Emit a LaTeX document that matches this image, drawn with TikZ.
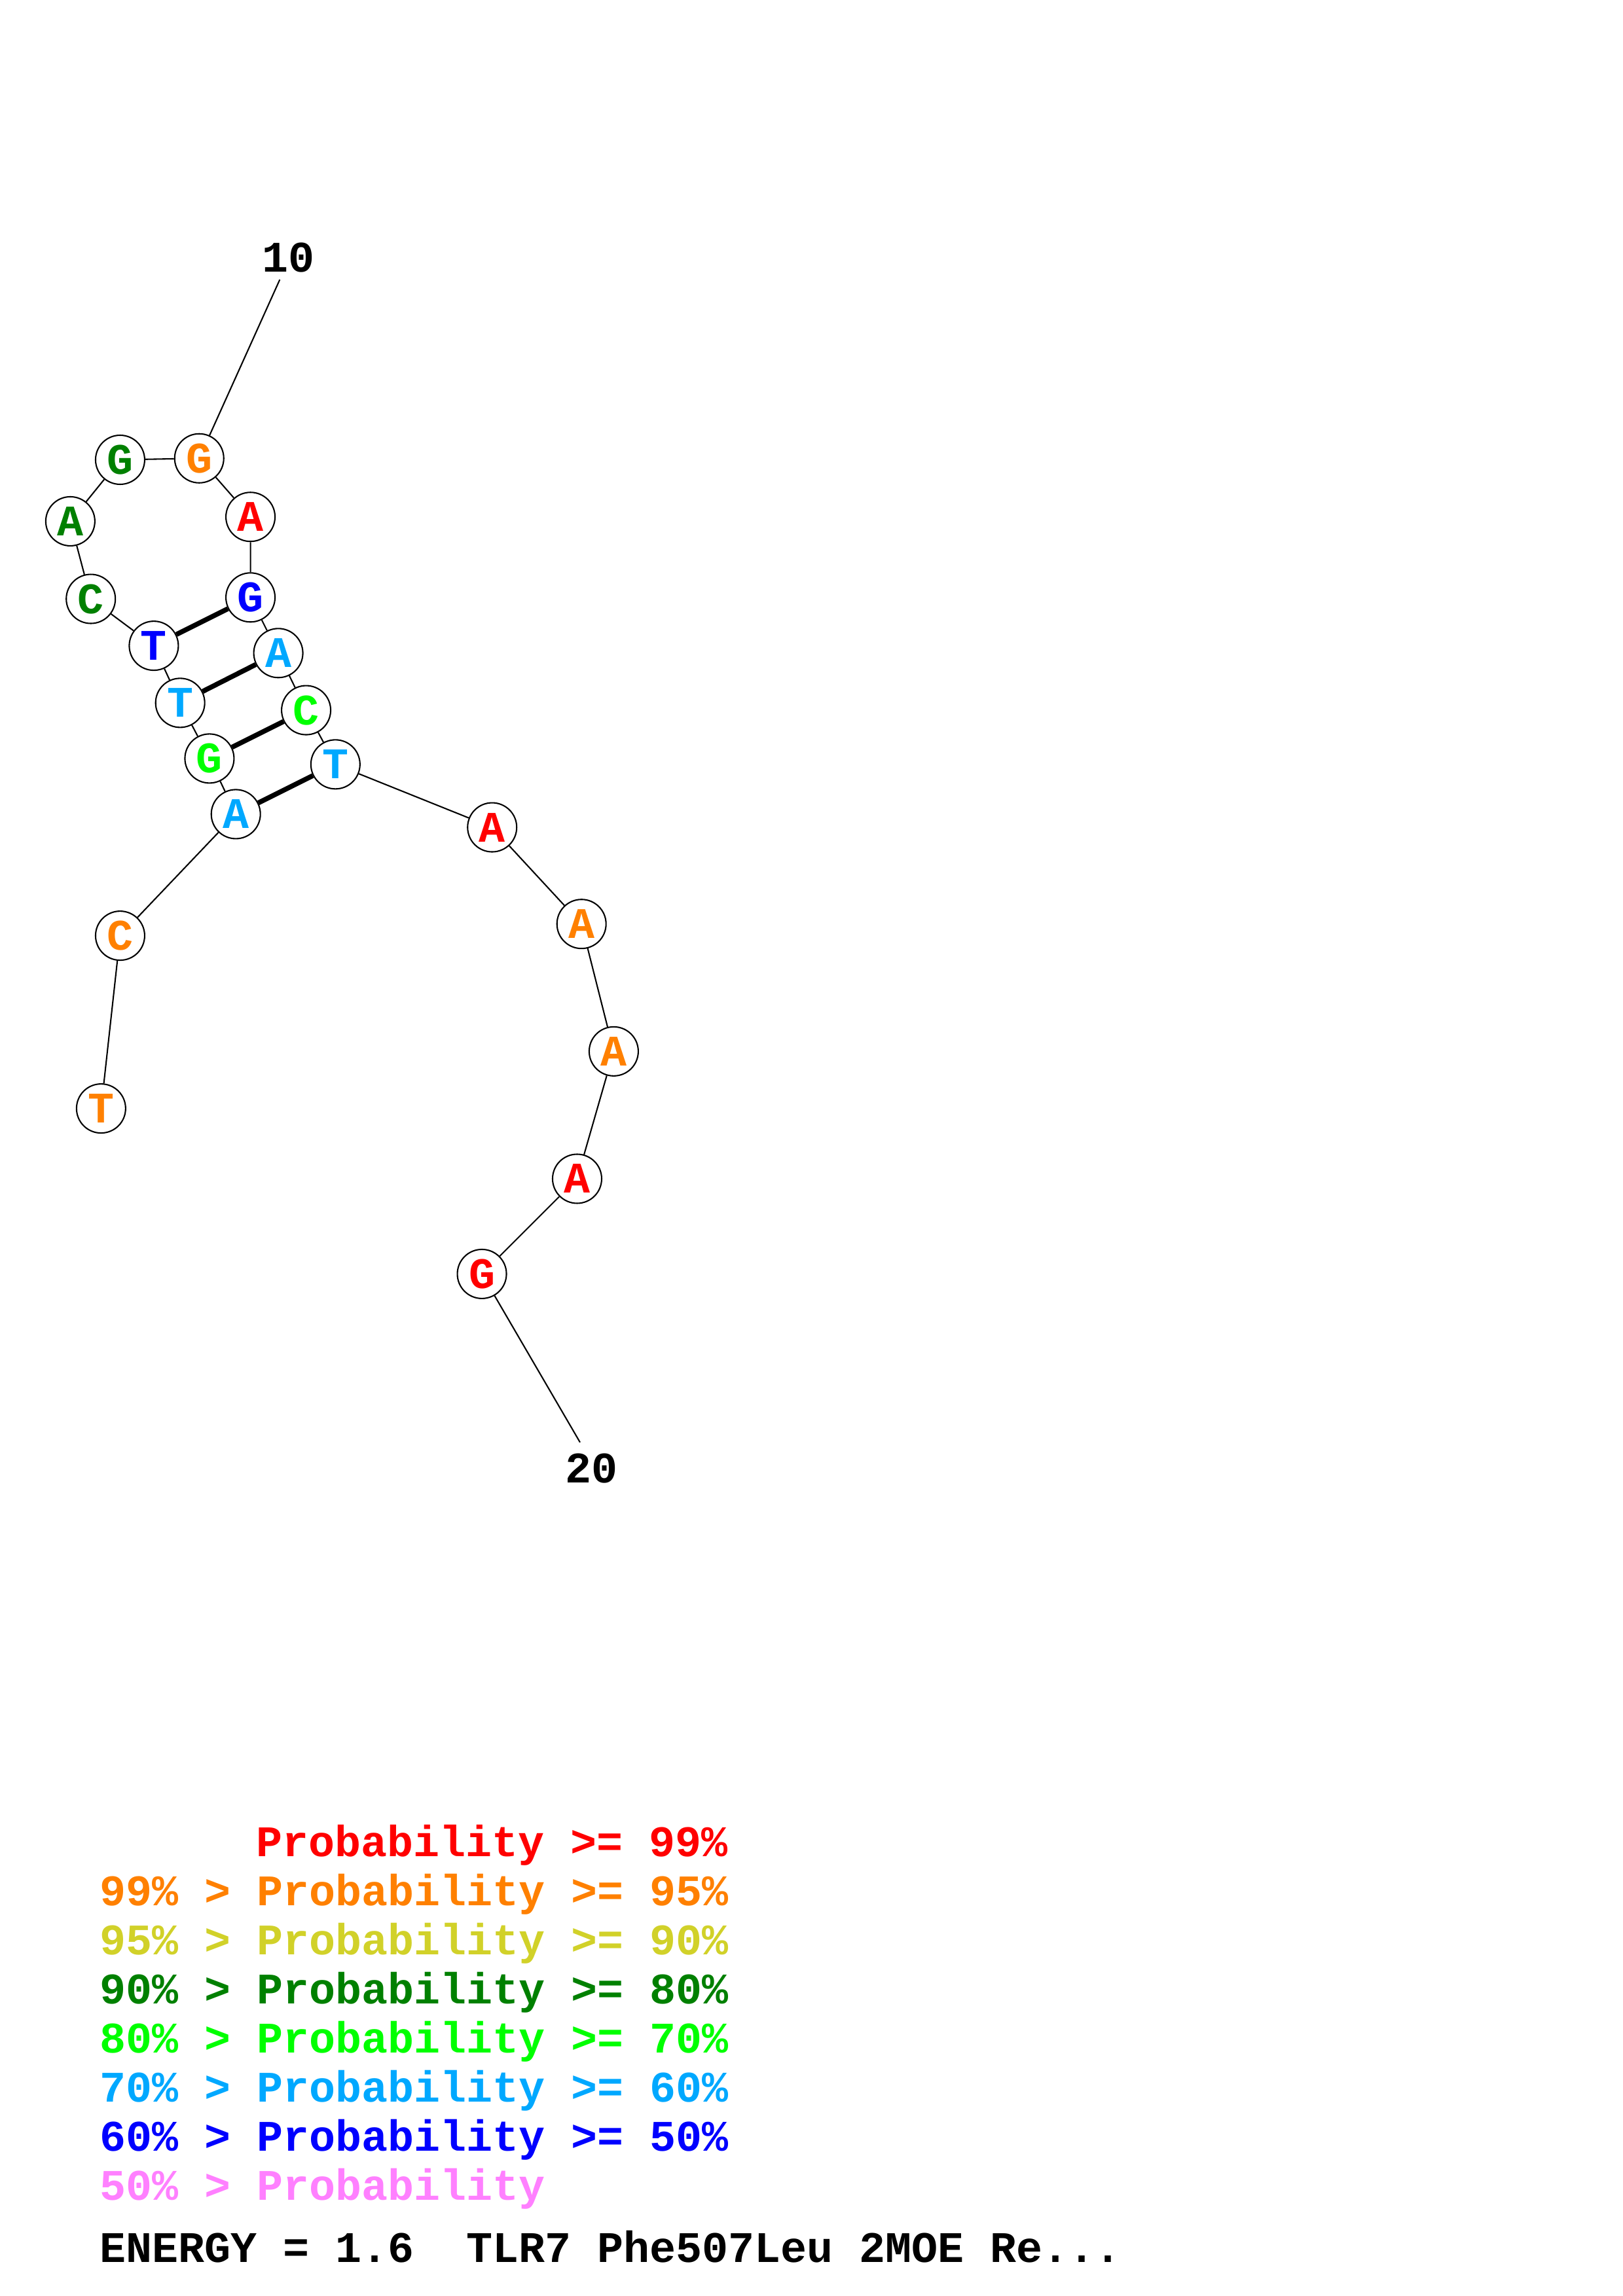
\documentclass[tikz,border=0pt]{standalone}
\usepackage{fontspec}
\setmonofont{Liberation Mono}
\usepackage{xcolor}
\usetikzlibrary{positioning}

\definecolor{pr99}{rgb}{1,0,0}
\definecolor{pr95}{rgb}{1,0.5,0}
\definecolor{pr90}{rgb}{0.82,0.82,0.16}
\definecolor{pr80}{rgb}{0,0.5,0}
\definecolor{pr70}{rgb}{0,1,0}
\definecolor{pr60}{rgb}{0,0.66,1}
\definecolor{pr50}{rgb}{0,0,1}
\definecolor{prlow}{rgb}{1,0.5,1}

\begin{document}
\begin{tikzpicture}[x=0.537pt, y=-0.537pt,
    font=\ttfamily\bfseries\fontsize{16}{16}\selectfont,
    base/.style={circle, draw, fill=white, line width=0.5pt, minimum size=18pt, inner sep=0pt},
    backbone/.style={draw, line width=0.5pt},
    pairing/.style={draw, line width=1.8pt},
    legend/.style={anchor=base west, inner sep=0pt}]

\useasboundingbox (0,0) rectangle (1108,1568);

% Bases
\node[base, text=pr95] (n1) at (69,757) {T};
\node[base, text=pr95] (n2) at (82,639) {C};
\node[base, text=pr60] (n3) at (161,556) {A};
\node[base, text=pr70] (n4) at (143,518) {G};
\node[base, text=pr60] (n5) at (123,480) {T};
\node[base, text=pr50] (n6) at (105,441) {T};
\node[base, text=pr80] (n7) at (62,409) {C};
\node[base, text=pr80] (n8) at (48,356) {A};
\node[base, text=pr80] (n9) at (82,314) {G};
\node[base, text=pr95] (n10) at (136,313) {G};
\node[base, text=pr99] (n11) at (171,353) {A};
\node[base, text=pr50] (n12) at (171,408) {G};
\node[base, text=pr60] (n13) at (190,446) {A};
\node[base, text=pr70] (n14) at (209,485) {C};
\node[base, text=pr60] (n15) at (229,522) {T};
\node[base, text=pr99] (n16) at (336,565) {A};
\node[base, text=pr95] (n17) at (397,631) {A};
\node[base, text=pr95] (n18) at (419,718) {A};
\node[base, text=pr99] (n19) at (394,805) {A};
\node[base, text=pr99] (n20) at (329,870) {G};

% Numbering
\node (lab10) at (197,176) {10};
\node (lab20) at (404,1003) {20};
\coordinate (tick10) at (191,191);
\coordinate (tick20) at (396,985);

% Backbone
\path[backbone] (n1) -- (n2) (n2) -- (n3) (n3) -- (n4) (n4) -- (n5)
    (n5) -- (n6) (n6) -- (n7)
    (n7) -- (n8) (n8) -- (n9) (n9) -- (n10) (n10) -- (n11) (n11) -- (n12)
    (n12) -- (n13) (n13) -- (n14) (n14) -- (n15) (n15) -- (n16)
    (n16) -- (n17) (n17) -- (n18) (n18) -- (n19) (n19) -- (n20)
    (tick10) -- (n10) (tick20) -- (n20);

% Base pairs
\path[pairing] (n6) -- (n12)
    (n5) -- (n13)
    (n4) -- (n14)
    (n3) -- (n15);

% Legend
\node[legend, text=pr99] (leg99) at (174.5,1268) {Probability >= 99\%};
\node[legend, text=pr95] (leg95) at (68,1301.5) {99\% > Probability >= 95\%};
\node[legend, text=pr90] (leg90) at (68,1335) {95\% > Probability >= 90\%};
\node[legend, text=pr80] (leg80) at (68,1368.5) {90\% > Probability >= 80\%};
\node[legend, text=pr70] (leg70) at (68,1402) {80\% > Probability >= 70\%};
\node[legend, text=pr60] (leg60) at (68,1435.5) {70\% > Probability >= 60\%};
\node[legend, text=pr50] (leg50) at (68,1469) {60\% > Probability >= 50\%};
\node[legend, text=prlow] (leglow) at (68,1502.5) {50\% > Probability};
\node[legend] (energy) at (68,1545) {ENERGY = 1.6~~TLR7 Phe507Leu 2MOE Re...};

\end{tikzpicture}
\end{document}
